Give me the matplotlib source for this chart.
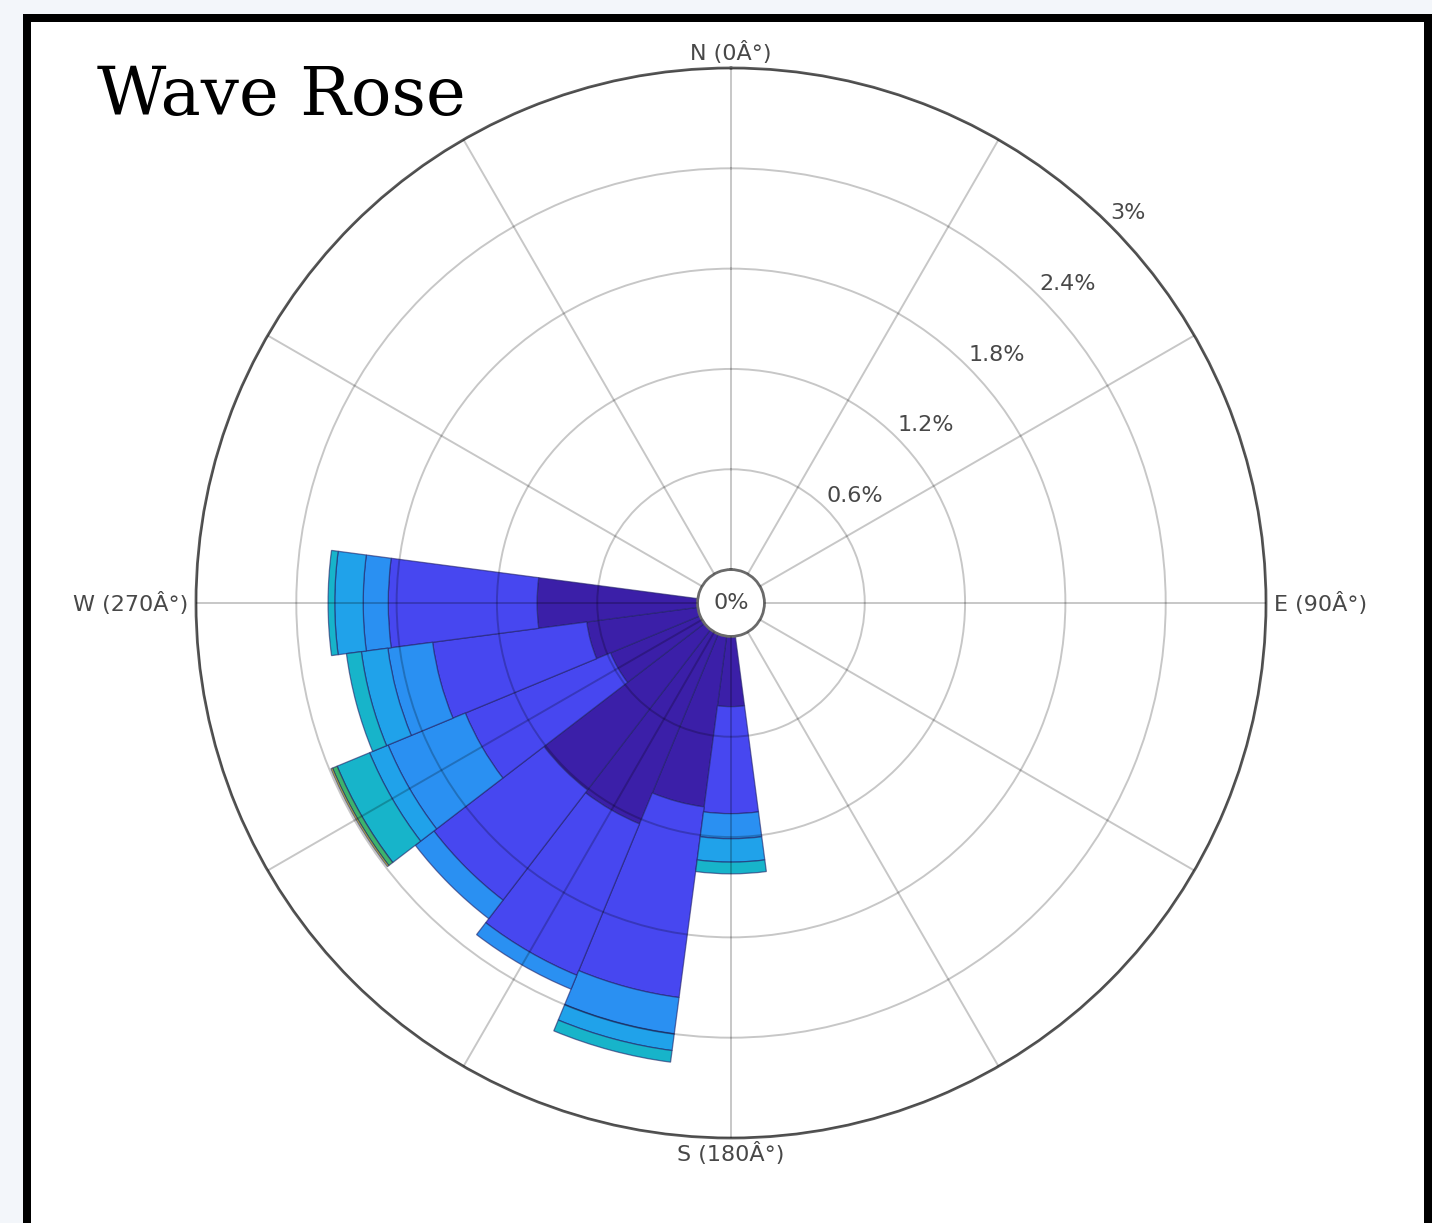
import matplotlib
matplotlib.use("Agg")
import numpy as np
import matplotlib.pyplot as plt
from matplotlib.patches import Rectangle

# Direction bins (compass degrees, 15-degree sectors)
directions = [180, 195, 210, 225, 240, 255, 270]

# Frequency (%) per sector for each height band, stacked outward
band_1 = [0.42, 1.03, 1.23, 1.21, 0.58, 0.67, 0.96]
band_2 = [0.64, 1.15, 0.98, 0.83, 0.94, 0.93, 0.89]
band_3 = [0.15, 0.22, 0.09, 0.14, 0.50, 0.27, 0.15]
band_4 = [0.14, 0.10, 0.00, 0.00, 0.12, 0.16, 0.17]
band_5 = [0.07, 0.07, 0.00, 0.00, 0.21, 0.09, 0.04]
band_6 = [0.00, 0.00, 0.00, 0.00, 0.03, 0.00, 0.00]
band_7 = [0.00, 0.00, 0.00, 0.00, 0.01, 0.00, 0.00]

band_colors = ["#3b1fa8", "#4747f0", "#2a90f2", "#20a2ea", "#17b4ca", "#3db36c", "#d9d43a"]

ring_values = [0.6, 1.2, 1.8, 2.4, 3.0]
ring_labels = ["0.6%", "1.2%", "1.8%", "2.4%", "3%"]
cardinal_angles = [0, 90, 180, 270]
cardinal_labels = ["N (0Â°)", "E (90Â°)", "S (180Â°)", "W (270Â°)"]

W, H = 1432, 1223
fig = plt.figure(figsize=(W / 100, H / 100), dpi=100, facecolor="#f3f6fa")

# White panel with a heavy black frame
fig.add_artist(Rectangle((27 / W, -0.05), (1428 - 27) / W, (1 - 18 / H) + 0.05,
                         transform=fig.transFigure, facecolor="white",
                         edgecolor="black", linewidth=8 * 0.72, zorder=0))

cx, cy, R = 731, 603, 535
ax = fig.add_axes([(cx - R) / W, (H - cy - R) / H, 2 * R / W, 2 * R / H],
                  projection="polar")
ax.set_facecolor("white")
ax.set_theta_zero_location("N")
ax.set_theta_direction(-1)
ax.set_ylim(0, 3)
ax.set_rorigin(-0.2)

theta = np.deg2rad(directions)
width = np.deg2rad(15)
bottom = np.zeros(len(directions))
for vals, col in zip([band_1, band_2, band_3, band_4, band_5, band_6, band_7],
                     band_colors):
    vals = np.asarray(vals, dtype=float)
    m = vals > 0
    ax.bar(theta[m], vals[m], width=width, bottom=bottom[m], color=col,
           edgecolor=(0.12, 0.12, 0.4, 0.6), linewidth=0.9, zorder=1)
    bottom += vals

ax.set_yticks(ring_values)
ax.set_yticklabels([])
ax.set_xticks(np.deg2rad(np.arange(0, 360, 30)))
ax.set_xticklabels([])
ax.tick_params(length=0)
ax.grid(True, color="k", alpha=0.22, linewidth=1.4)
ax.set_axisbelow(False)
ax.spines["polar"].set_color("#5a5a5a")
ax.spines["polar"].set_linewidth(2.0)
ax.spines["inner"].set_visible(True)
ax.spines["inner"].set_color("#6a6a6a")
ax.spines["inner"].set_linewidth(2.0)

txt_color = "#484848"
fs = 16
for v, lab in zip(ring_values, ring_labels):
    ax.annotate(lab, xy=(np.deg2rad(45), v), xytext=(1, 12),
                textcoords="offset pixels", ha="left", va="center",
                fontsize=fs, color=txt_color, annotation_clip=False)

align = {0: ("center", "bottom", (0, 4)), 90: ("left", "center", (8, 0)),
         180: ("center", "top", (0, -4)), 270: ("right", "center", (-8, 0))}
for ang, lab in zip(cardinal_angles, cardinal_labels):
    ha, va, off = align[ang]
    ax.annotate(lab, xy=(np.deg2rad(ang), 3.0), xytext=off,
                textcoords="offset pixels", ha=ha, va=va, fontsize=fs,
                color=txt_color, annotation_clip=False)

ax.text(0.5, 0.5, "0%", transform=ax.transAxes, ha="center", va="center",
        fontsize=fs, color=txt_color)

fig.text(97 / W, 1 - 115 / H, "Wave Rose", family="DejaVu Serif",
         fontsize=48.5, ha="left", va="baseline", color="black")

fig.savefig("out.png", dpi=100, facecolor=fig.get_facecolor())
